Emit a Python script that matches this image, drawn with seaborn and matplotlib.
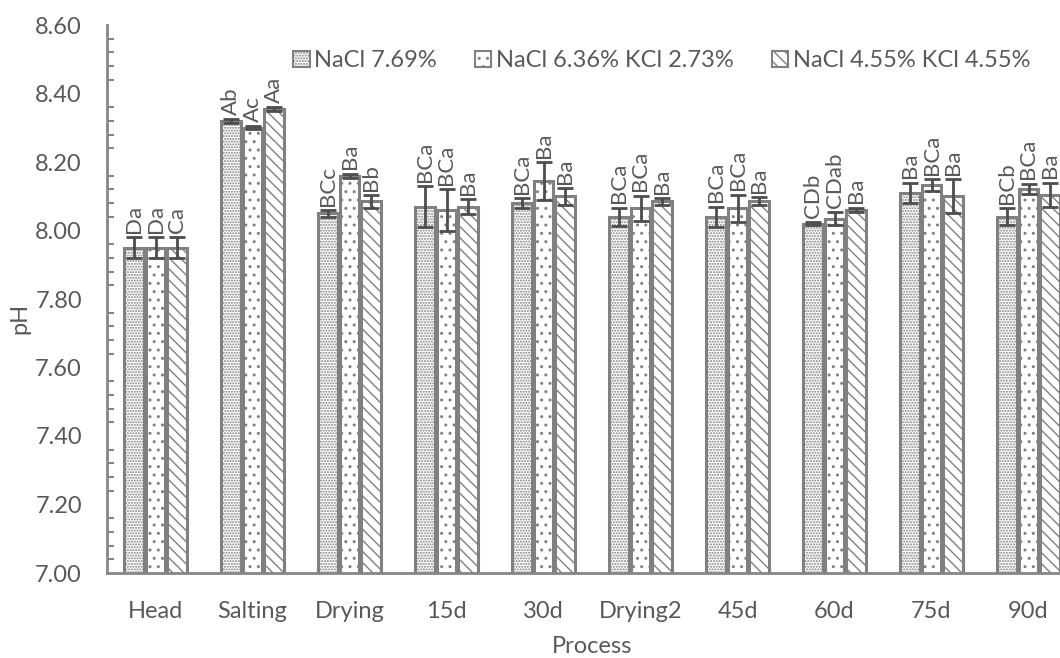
import matplotlib
matplotlib.use("Agg")
import matplotlib.pyplot as plt
from matplotlib.patches import Patch
from matplotlib.ticker import MultipleLocator, FormatStrFormatter
import seaborn as sns
import pandas as pd

processes = ["Head", "Salting", "Drying", "15d", "30d", "Drying2", "45d", "60d", "75d", "90d"]
treatments = ["NaCl 7.69%", "NaCl 6.36% KCl 2.73%", "NaCl 4.55% KCl 4.55%"]

ph_nacl = [7.95, 8.32, 8.05, 8.07, 8.08, 8.04, 8.04, 8.02, 8.11, 8.04]
ph_mix1 = [7.95, 8.30, 8.16, 8.06, 8.145, 8.065, 8.065, 8.035, 8.133, 8.122]
ph_mix2 = [7.95, 8.355, 8.085, 8.07, 8.10, 8.085, 8.085, 8.06, 8.10, 8.105]

err_nacl = [0.03, 0.006, 0.01, 0.06, 0.015, 0.027, 0.03, 0.005, 0.03, 0.025]
err_mix1 = [0.03, 0.005, 0.006, 0.06, 0.055, 0.037, 0.04, 0.018, 0.018, 0.015]
err_mix2 = [0.03, 0.006, 0.018, 0.022, 0.025, 0.01, 0.012, 0.007, 0.05, 0.035]

lab_nacl = ["Da", "Ab", "BCc", "BCa", "BCa", "BCa", "BCa", "CDb", "Ba", "BCb"]
lab_mix1 = ["Da", "Ac", "Ba", "BCa", "Ba", "BCa", "BCa", "CDab", "BCa", "BCa"]
lab_mix2 = ["Ca", "Aa", "Bb", "Ba", "Ba", "Ba", "Ba", "Ba", "Ba", "Ba"]

values = [ph_nacl, ph_mix1, ph_mix2]
errors = [err_nacl, err_mix1, err_mix2]
letters = [lab_nacl, lab_mix1, lab_mix2]
hatches = ["......", "..", "\\\\\\"]

rows = []
for t, vals in zip(treatments, values):
    for p, v in zip(processes, vals):
        rows.append({"Process": p, "pH": v, "Treatment": t})
df = pd.DataFrame(rows)

sns.set_theme(style="white")
plt.rcParams["font.family"] = ["Lato", "DejaVu Sans"]
plt.rcParams["hatch.color"] = "#8a8a8a"
plt.rcParams["hatch.linewidth"] = 1.0

TXT = "#595959"
EDGE = "#808080"

fig = plt.figure(figsize=(10.6, 6.58), dpi=100)
ax = fig.add_axes([107 / 1060, 85 / 658, 970 / 1060, 548 / 658])

sns.barplot(data=df, x="Process", y="pH", hue="Treatment", order=processes,
            hue_order=treatments, palette=["white"] * 3, edgecolor=EDGE,
            linewidth=2.2, width=0.67, gap=0.1, errorbar=None, legend=False,
            saturation=1, ax=ax)

bar_containers = list(ax.containers)
for i, cont in enumerate(bar_containers):
    for bar, err, lab in zip(cont, errors[i], letters[i]):
        bar.set_hatch(hatches[i])
        bar.set_edgecolor(EDGE)
        x = bar.get_x() + bar.get_width() / 2
        h = bar.get_height()
        ax.errorbar(x, h, yerr=err, fmt="none", ecolor="#4d4d4d",
                    elinewidth=2, capsize=6, capthick=2, zorder=5)
        ax.annotate(lab, (x, h + err), xytext=(0, 3), textcoords="offset points",
                    rotation=90, ha="center", va="bottom", fontsize=16, color=TXT)

ax.set_ylim(7.0, 8.6)
ax.set_xlim(-0.5, 9.5)
ax.yaxis.set_major_locator(MultipleLocator(0.2))
ax.yaxis.set_minor_locator(MultipleLocator(0.04))
ax.yaxis.set_major_formatter(FormatStrFormatter("%.2f"))

for s in ["top", "right"]:
    ax.spines[s].set_visible(False)
for s in ["left", "bottom"]:
    ax.spines[s].set_color("#868686")
    ax.spines[s].set_linewidth(2)

ax.tick_params(axis="y", which="major", direction="in", length=8, width=2,
               color="#868686", labelsize=17, labelcolor=TXT, pad=18)
ax.tick_params(axis="y", which="minor", direction="in", length=5, width=1.5,
               color="#868686", left=True)
ax.tick_params(axis="x", length=0, labelsize=17, labelcolor=TXT, pad=20)

ax.set_xlabel("Process", fontsize=17, color=TXT, labelpad=10)
ax.set_ylabel("pH", fontsize=17, color=TXT)
ax.yaxis.set_label_coords(-0.079, 0.465)

handles = [Patch(facecolor="white", edgecolor=EDGE, hatch=h, linewidth=1.5) for h in hatches]
ax.legend(handles, treatments, loc="center", bbox_to_anchor=(0.572, 0.935),
          ncol=3, frameon=False, fontsize=17, labelcolor=TXT,
          handlelength=0.7, handleheight=0.7, handletextpad=0.2, columnspacing=1.6)

fig.savefig("out.png", dpi=100)
